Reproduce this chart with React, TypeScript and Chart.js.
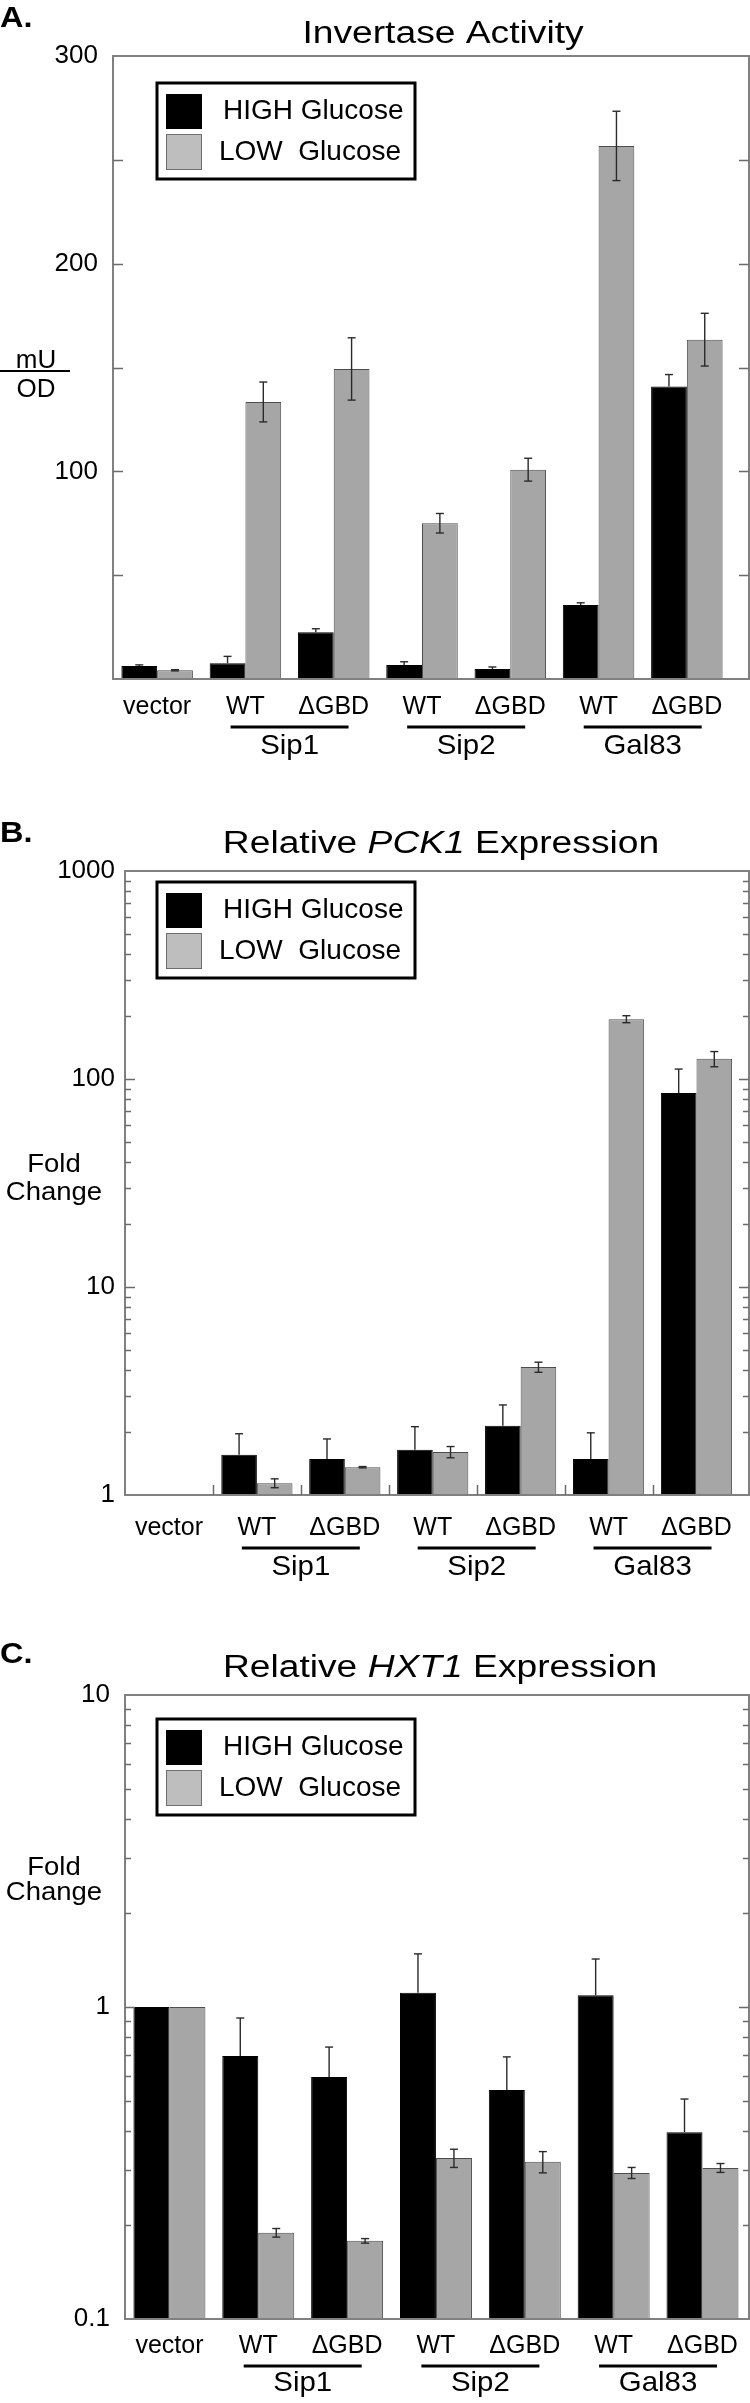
import React, { useEffect, useRef } from 'react';
import { Chart, registerables } from 'chart.js';

Chart.register(...registerables);

// ---------------- data ----------------
const CATEGORIES = ['vector', 'WT', 'ΔGBD', 'WT', 'ΔGBD', 'WT', 'ΔGBD'];
const GROUPS = ['Sip1', 'Sip2', 'Gal83'];
const GROUP_FIRST_INDEX = [1, 3, 5];
const SERIES_LABELS = ['HIGH Glucose', 'LOW  Glucose'];

// A. Invertase activity (mU/OD)
const INV_HIGH = [6.3, 7.6, 22.5, 6.7, 4.8, 35.6, 140.9];
const INV_HIGH_ERR = [0.5, 3.3, 1.7, 1.6, 1.0, 1.1, 5.7];
const INV_LOW = [4.2, 133.4, 149.3, 75.0, 100.8, 256.7, 163.4];
const INV_LOW_ERR = [0.3, 9.6, 15.0, 4.7, 5.5, 16.7, 12.7];
const INV_TICK_LABELS = [100, 200, 300];

// B. Relative PCK1 expression (fold change)
const PCK_HIGH = [1, 1.56, 1.49, 1.65, 2.15, 1.49, 85.6];
const PCK_HIGH_ERR = [0, 0.41, 0.37, 0.48, 0.56, 0.5, 26];
const PCK_LOW = [1, 1.14, 1.36, 1.61, 4.12, 194, 125];
const PCK_LOW_ERR = [0, 0.056, 0.01, 0.1, 0.23, 7.5, 10.5];
const PCK_TICK_LABELS = [1, 10, 100, 1000];

// C. Relative HXT1 expression (fold change)
const HXT_HIGH = [1.0, 0.697, 0.597, 1.11, 0.542, 1.09, 0.397];
const HXT_HIGH_ERR = [0, 0.225, 0.147, 0.37, 0.15, 0.335, 0.11];
const HXT_LOW = [1.0, 0.189, 0.178, 0.328, 0.319, 0.294, 0.305];
const HXT_LOW_ERR = [0, 0.006, 0.003, 0.022, 0.025, 0.012, 0.01];
const HXT_TICK_LABELS = [0.1, 1, 10];

// ---------------- styles ----------------
const FONT = '"Liberation Sans", Arial, Helvetica, sans-serif';
const font = (size: number, weight = 'normal', style = 'normal') =>
  `${style} ${weight} ${size}px ${FONT}`;
const BLACK = '#000000';
const GRAY_BAR = '#a6a6a6';
const GRAY_BAR_BORDER = '#4d4d4d';
const LEGEND_GRAY = '#bebebe';
const FRAME = '#808080';
const ERR = '#2a2a2a';

type TitlePart = { t: string; i: boolean };

interface PanelCfg {
  key: string;
  top: number;
  height: number;
  letter: string;
  letterBaseline: number;
  title: TitlePart[];
  titleCx: number;
  titleBaseline: number;
  plotTop: number;
  plotBottom: number;
  plotLeft: number;
  areaRight: number;
  frameRight: number;
  yType: 'linear' | 'logarithmic';
  yMin: number;
  yMax: number;
  yStep?: number;
  yLabels: number[];
  tickPad: number;
  high: number[];
  highErr: number[];
  low: number[];
  lowErr: number[];
  legendTop: number;
  xLabelPad: number;
  underlineY: number;
  groupBaseline: number;
  bottomTicks: boolean;
  yTitle: 'fraction' | 'fold';
  yTitleBaselines: number[];
}

const PANELS: PanelCfg[] = [
  {
    key: 'A', top: 0, height: 780,
    letter: 'A.', letterBaseline: 27,
    title: [{ t: 'Invertase Activity', i: false }], titleCx: 443, titleBaseline: 43,
    plotTop: 56, plotBottom: 679, plotLeft: 113, areaRight: 731, frameRight: 749,
    yType: 'linear', yMin: 0, yMax: 300, yStep: 50, yLabels: INV_TICK_LABELS, tickPad: 15,
    high: INV_HIGH, highErr: INV_HIGH_ERR, low: INV_LOW, lowErr: INV_LOW_ERR,
    legendTop: 83, xLabelPad: 13, underlineY: 727, groupBaseline: 754,
    bottomTicks: false, yTitle: 'fraction', yTitleBaselines: [368, 397],
  },
  {
    key: 'B', top: 780, height: 820,
    letter: 'B.', letterBaseline: 62,
    title: [{ t: 'Relative ', i: false }, { t: 'PCK1', i: true }, { t: ' Expression', i: false }],
    titleCx: 441, titleBaseline: 73,
    plotTop: 91, plotBottom: 715, plotLeft: 125, areaRight: 749, frameRight: 749,
    yType: 'logarithmic', yMin: 1, yMax: 1000, yLabels: PCK_TICK_LABELS, tickPad: 10,
    high: PCK_HIGH, highErr: PCK_HIGH_ERR, low: PCK_LOW, lowErr: PCK_LOW_ERR,
    legendTop: 102, xLabelPad: 18, underlineY: 768, groupBaseline: 795,
    bottomTicks: true, yTitle: 'fold', yTitleBaselines: [392, 420],
  },
  {
    key: 'C', top: 1600, height: 803,
    letter: 'C.', letterBaseline: 63,
    title: [{ t: 'Relative ', i: false }, { t: 'HXT1', i: true }, { t: ' Expression', i: false }],
    titleCx: 440, titleBaseline: 77,
    plotTop: 95, plotBottom: 719, plotLeft: 125, areaRight: 749, frameRight: 749,
    yType: 'logarithmic', yMin: 0.1, yMax: 10, yLabels: HXT_TICK_LABELS, tickPad: 15,
    high: HXT_HIGH, highErr: HXT_HIGH_ERR, low: HXT_LOW, lowErr: HXT_LOW_ERR,
    legendTop: 119, xLabelPad: 12, underlineY: 766, groupBaseline: 791,
    bottomTicks: false, yTitle: 'fold', yTitleBaselines: [275, 300],
  },
];

// ---------------- drawing helpers ----------------
function drawText(
  ctx: CanvasRenderingContext2D, text: string, x: number, y: number,
  f: string, align: 'left' | 'center' | 'right', sx = 1,
) {
  ctx.save();
  ctx.font = f;
  ctx.textAlign = 'left';
  ctx.textBaseline = 'alphabetic';
  ctx.fillStyle = BLACK;
  const w = ctx.measureText(text).width * sx;
  const x0 = align === 'left' ? x : align === 'center' ? x - w / 2 : x - w;
  ctx.translate(x0, y);
  ctx.scale(sx, 1);
  ctx.fillText(text, 0, 0);
  ctx.restore();
}

function drawTitle(ctx: CanvasRenderingContext2D, parts: TitlePart[], cx: number, y: number) {
  const size = 31;
  const sx = 1.2;
  ctx.save();
  const widths = parts.map((p) => {
    ctx.font = font(size, 'normal', p.i ? 'italic' : 'normal');
    return ctx.measureText(p.t).width * sx;
  });
  ctx.restore();
  const total = widths.reduce((a, b) => a + b, 0);
  let x = cx - total / 2;
  parts.forEach((p, k) => {
    drawText(ctx, p.t, x, y, font(size, 'normal', p.i ? 'italic' : 'normal'), 'left', sx);
    x += widths[k];
  });
}

function line(ctx: CanvasRenderingContext2D, x1: number, y1: number, x2: number, y2: number) {
  ctx.beginPath();
  ctx.moveTo(x1, y1);
  ctx.lineTo(x2, y2);
  ctx.stroke();
}

function makePanelPlugin(cfg: PanelCfg) {
  return {
    id: 'panelDecor' + cfg.key,
    afterDatasetsDraw(chart: any) {
      const ctx: CanvasRenderingContext2D = chart.ctx;
      const y = chart.scales.y;
      ctx.save();
      ctx.strokeStyle = ERR;
      ctx.lineWidth = 1.4;
      chart.data.datasets.forEach((ds: any, d: number) => {
        const meta = chart.getDatasetMeta(d);
        const onDark = ds.backgroundColor === BLACK;
        ds.data.forEach((v: number, i: number) => {
          const e = ds.errors[i];
          if (!e) return;
          const x = meta.data[i].x;
          const yTop = y.getPixelForValue(v + e);
          const lowV = v - e;
          // the lower whisker of a black bar is black on black: only the upper part shows
          const yBot = onDark
            ? y.getPixelForValue(v)
            : lowV > cfg.yMin ? y.getPixelForValue(lowV) : y.getPixelForValue(cfg.yMin);
          line(ctx, x, yTop, x, yBot);
          line(ctx, x - 4, yTop, x + 4, yTop);
          if (!onDark && lowV > cfg.yMin) line(ctx, x - 4, yBot, x + 4, yBot);
        });
      });
      ctx.restore();
    },
    afterDraw(chart: any) {
      const ctx: CanvasRenderingContext2D = chart.ctx;
      const area = chart.chartArea;
      const ys = chart.scales.y;
      const xs = chart.scales.x;
      const left = area.left;
      const right = cfg.frameRight;
      const top = area.top;
      const bottom = area.bottom;

      // frame
      ctx.save();
      ctx.strokeStyle = FRAME;
      ctx.lineWidth = 2;
      ctx.strokeRect(left, top, right - left, bottom - top);

      // inner y ticks on both sides
      ctx.strokeStyle = '#6a6a6a';
      ctx.lineWidth = 1.5;
      if (cfg.yType === 'linear') {
        for (let v = cfg.yMin + (cfg.yStep as number); v < cfg.yMax; v += cfg.yStep as number) {
          const py = Math.round(ys.getPixelForValue(v)) + 0.5;
          line(ctx, left, py, left + 10, py);
          line(ctx, right - 10, py, right, py);
        }
      } else {
        const k0 = Math.floor(Math.log10(cfg.yMin));
        const k1 = Math.ceil(Math.log10(cfg.yMax));
        for (let k = k0; k <= k1; k++) {
          for (let m = 1; m <= 9; m++) {
            const v = m * Math.pow(10, k);
            if (v <= cfg.yMin * 1.0001 || v >= cfg.yMax * 0.9999) continue;
            const py = Math.round(ys.getPixelForValue(v)) + 0.5;
            const len = m === 1 ? 10 : 6;
            line(ctx, left, py, left + len, py);
            line(ctx, right - len, py, right, py);
          }
        }
      }

      // bottom ticks between categories
      if (cfg.bottomTicks) {
        for (let i = 0; i < CATEGORIES.length - 1; i++) {
          const px = Math.round((xs.getPixelForValue(i) + xs.getPixelForValue(i + 1)) / 2) + 0.5;
          line(ctx, px, bottom, px, bottom - 10);
        }
      }
      ctx.restore();

      // legend box
      const lx = 157;
      const ly = cfg.legendTop;
      ctx.save();
      ctx.fillStyle = '#ffffff';
      ctx.fillRect(lx, ly, 258, 96);
      ctx.strokeStyle = BLACK;
      ctx.lineWidth = 3;
      ctx.strokeRect(lx, ly, 258, 96);
      ctx.fillStyle = BLACK;
      ctx.fillRect(166, ly + 11, 36, 35);
      ctx.fillStyle = LEGEND_GRAY;
      ctx.fillRect(166, ly + 51, 36, 36);
      ctx.strokeStyle = '#6e6e6e';
      ctx.lineWidth = 1;
      ctx.strokeRect(166.5, ly + 51.5, 35, 35);
      ctx.restore();
      const dsets = chart.data.datasets;
      drawText(ctx, dsets[0].label, 223, ly + 36, font(28), 'left');
      drawText(ctx, dsets[1].label, 219, ly + 77, font(28), 'left');

      // panel letter and title
      drawText(ctx, cfg.letter, 0, cfg.letterBaseline, font(29, 'bold'), 'left', 1.12);
      drawTitle(ctx, cfg.title, cfg.titleCx, cfg.titleBaseline);

      // y axis title
      if (cfg.yTitle === 'fraction') {
        drawText(ctx, 'mU', 36, cfg.yTitleBaselines[0], font(26), 'center');
        ctx.save();
        ctx.strokeStyle = BLACK;
        ctx.lineWidth = 2;
        line(ctx, 0, cfg.yTitleBaselines[0] + 3, 70, cfg.yTitleBaselines[0] + 3);
        ctx.restore();
        drawText(ctx, 'OD', 36, cfg.yTitleBaselines[1], font(26), 'center');
      } else {
        drawText(ctx, 'Fold', 54, cfg.yTitleBaselines[0], font(25), 'center', 1.1);
        drawText(ctx, 'Change', 54, cfg.yTitleBaselines[1], font(25), 'center', 1.1);
      }

      // group underlines and names
      ctx.save();
      ctx.strokeStyle = BLACK;
      ctx.lineWidth = 3;
      GROUPS.forEach((g, k) => {
        const i = GROUP_FIRST_INDEX[k];
        const mid = (xs.getPixelForValue(i) + xs.getPixelForValue(i + 1)) / 2;
        line(ctx, mid - 59, cfg.underlineY, mid + 59, cfg.underlineY);
        drawText(ctx, g, mid, cfg.groupBaseline, font(28), 'center', 1.05);
      });
      ctx.restore();
    },
  };
}

function buildConfig(cfg: PanelCfg): any {
  const isLabel = (v: number) => cfg.yLabels.some((l) => Math.abs(v - l) / l < 1e-6);
  const yScale: any = {
    type: cfg.yType,
    min: cfg.yMin,
    max: cfg.yMax,
    grid: { display: false, drawTicks: false },
    border: { display: false },
    ticks: {
      autoSkip: false,
      padding: cfg.tickPad,
      color: BLACK,
      font: { family: FONT, size: 26 },
      callback: (v: any) => (isLabel(Number(v)) ? String(Number(v)) : ''),
    },
    afterFit: (s: any) => { s.width = cfg.plotLeft; },
  };
  if (cfg.yStep) yScale.ticks.stepSize = cfg.yStep;
  return {
    type: 'bar',
    data: {
      labels: CATEGORIES,
      datasets: [
        {
          label: SERIES_LABELS[0], data: cfg.high, errors: cfg.highErr,
          backgroundColor: BLACK, borderColor: BLACK, borderWidth: 1,
          categoryPercentage: 0.81, barPercentage: 1.0,
        },
        {
          label: SERIES_LABELS[1], data: cfg.low, errors: cfg.lowErr,
          backgroundColor: GRAY_BAR, borderColor: GRAY_BAR_BORDER, borderWidth: 1,
          categoryPercentage: 0.81, barPercentage: 1.0,
        },
      ],
    },
    options: {
      responsive: false,
      maintainAspectRatio: false,
      animation: false,
      events: [],
      layout: {
        padding: { top: cfg.plotTop, left: 0, right: 750 - cfg.areaRight, bottom: 0 },
      },
      plugins: {
        legend: { display: false },
        title: { display: false },
        tooltip: { enabled: false },
      },
      scales: {
        x: {
          type: 'category',
          offset: true,
          grid: { display: false, drawTicks: false },
          border: { display: false },
          ticks: {
            autoSkip: false,
            maxRotation: 0,
            minRotation: 0,
            padding: cfg.xLabelPad,
            color: BLACK,
            font: { family: FONT, size: 25 },
          },
          afterFit: (s: any) => { s.height = cfg.height - cfg.plotBottom; },
        },
        y: yScale,
      },
    },
    plugins: [makePanelPlugin(cfg)],
  };
}

function Panel({ cfg }: { cfg: PanelCfg }) {
  const ref = useRef<HTMLCanvasElement>(null);
  useEffect(() => {
    const chart = new Chart(ref.current as HTMLCanvasElement, buildConfig(cfg));
    return () => chart.destroy();
  }, [cfg]);
  return (
    <canvas
      ref={ref}
      width={750}
      height={cfg.height}
      style={{ position: 'absolute', left: 0, top: cfg.top, width: 750, height: cfg.height, display: 'block' }}
    />
  );
}

export default function App() {
  return (
    <div style={{ position: 'absolute', left: 0, top: 0, width: 750, height: 2403, background: '#ffffff', overflow: 'hidden' }}>
      {PANELS.map((p) => (
        <Panel key={p.key} cfg={p} />
      ))}
    </div>
  );
}
